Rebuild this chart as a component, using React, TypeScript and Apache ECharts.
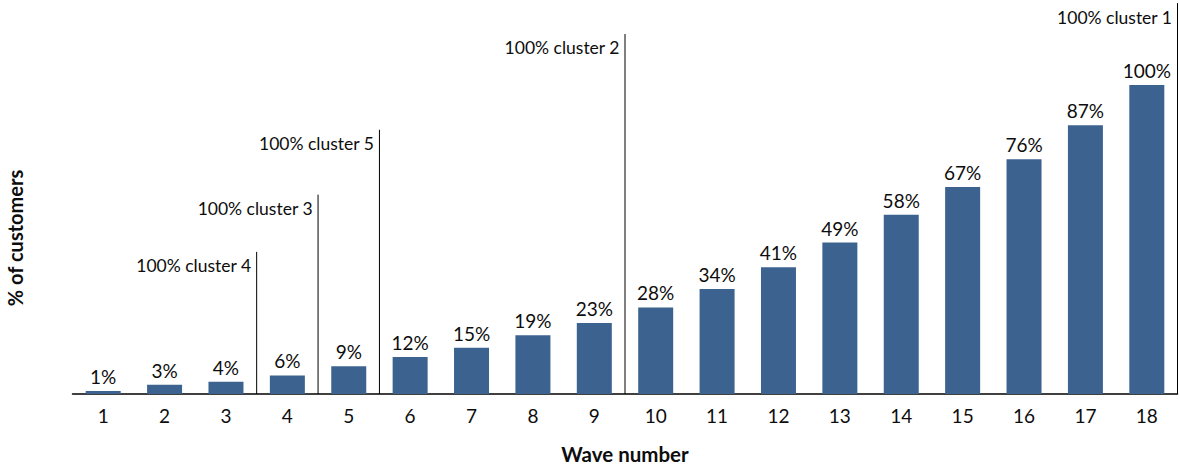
import React, { useEffect, useRef } from "react";
import * as echarts from "echarts";

const waves = ["1","2","3","4","5","6","7","8","9","10","11","12","13","14","15","16","17","18"];
const pctCustomers = [1,3,4,6,9,12,15,19,23,28,34,41,49,58,67,76,87,100];
const clusterNames = ["100% cluster 4","100% cluster 3","100% cluster 5","100% cluster 2","100% cluster 1"];
const clusterBoundary = [3,4,5,9,18];
const clusterLineTop = [46,64.5,85.5,116.5,126.5];

const FONT = "Lato, 'Open Sans', sans-serif";
const INK = "#0d0d0d";

export default function App() {
  const ref = useRef<HTMLDivElement>(null);
  useEffect(() => {
    if (!ref.current) return;
    const chart = echarts.init(ref.current, null, { renderer: "svg" });
    const lineSeries = clusterBoundary.map((b, i) => ({
      type: "line",
      xAxisIndex: 1,
      yAxisIndex: 0,
      data: [[b, 0], [b, clusterLineTop[i]]],
      symbol: "none",
      lineStyle: { color: "#000", width: 1 },
      silent: true,
    }));
    const labelSeries = {
      type: "scatter",
      xAxisIndex: 1,
      yAxisIndex: 0,
      symbolSize: 1,
      itemStyle: { color: "rgba(0,0,0,0)", opacity: 1 },
      data: clusterBoundary.map((b, i) => ({
        value: [b, clusterLineTop[i]],
        label: {
          show: true,
          formatter: clusterNames[i],
          position: "left",
          distance: 5,
          offset: [0, 14],
          color: INK,
          fontSize: 17.5,
          fontFamily: FONT,
        },
      })),
    };
    chart.setOption({
      animation: false,
      grid: {
        left: 72.5,
        right: 2.5,
        top: 0,
        bottom: 72,
        containLabel: false,
        outerBoundsMode: "none",
      },
      xAxis: [
        {
          type: "category",
          data: waves,
          axisLine: { lineStyle: { color: "#000", width: 1.5 } },
          axisTick: { show: false },
          axisLabel: { color: INK, fontSize: 19, margin: 12, fontFamily: FONT },
          name: "Wave number",
          nameLocation: "middle",
          nameGap: 49,
          nameTextStyle: { color: INK, fontSize: 20.5, fontWeight: "bold", fontFamily: FONT },
        },
        { type: "value", min: 0, max: 18, show: false },
      ],
      yAxis: [{ type: "value", min: 0, max: 127.5, show: false }],
      graphic: [
        {
          type: "text",
          x: 15,
          y: 238,
          rotation: Math.PI / 2,
          style: {
            text: "% of customers",
            fontSize: 20,
            fontWeight: "bold",
            fontFamily: FONT,
            fill: INK,
            align: "center",
            verticalAlign: "middle",
          },
        },
      ],
      series: [
        {
          type: "bar",
          data: pctCustomers,
          barWidth: 35,
          itemStyle: { color: "#3C6390" },
          label: {
            show: true,
            position: "top",
            distance: 5,
            formatter: "{c}%",
            color: INK,
            fontSize: 19,
            fontFamily: FONT,
          },
        },
        ...lineSeries,
        labelSeries,
      ],
    });
    return () => chart.dispose();
  }, []);
  return (
    <div
      ref={ref}
      style={{ position: "absolute", left: 0, top: 0, width: 1180, height: 466 }}
    />
  );
}
